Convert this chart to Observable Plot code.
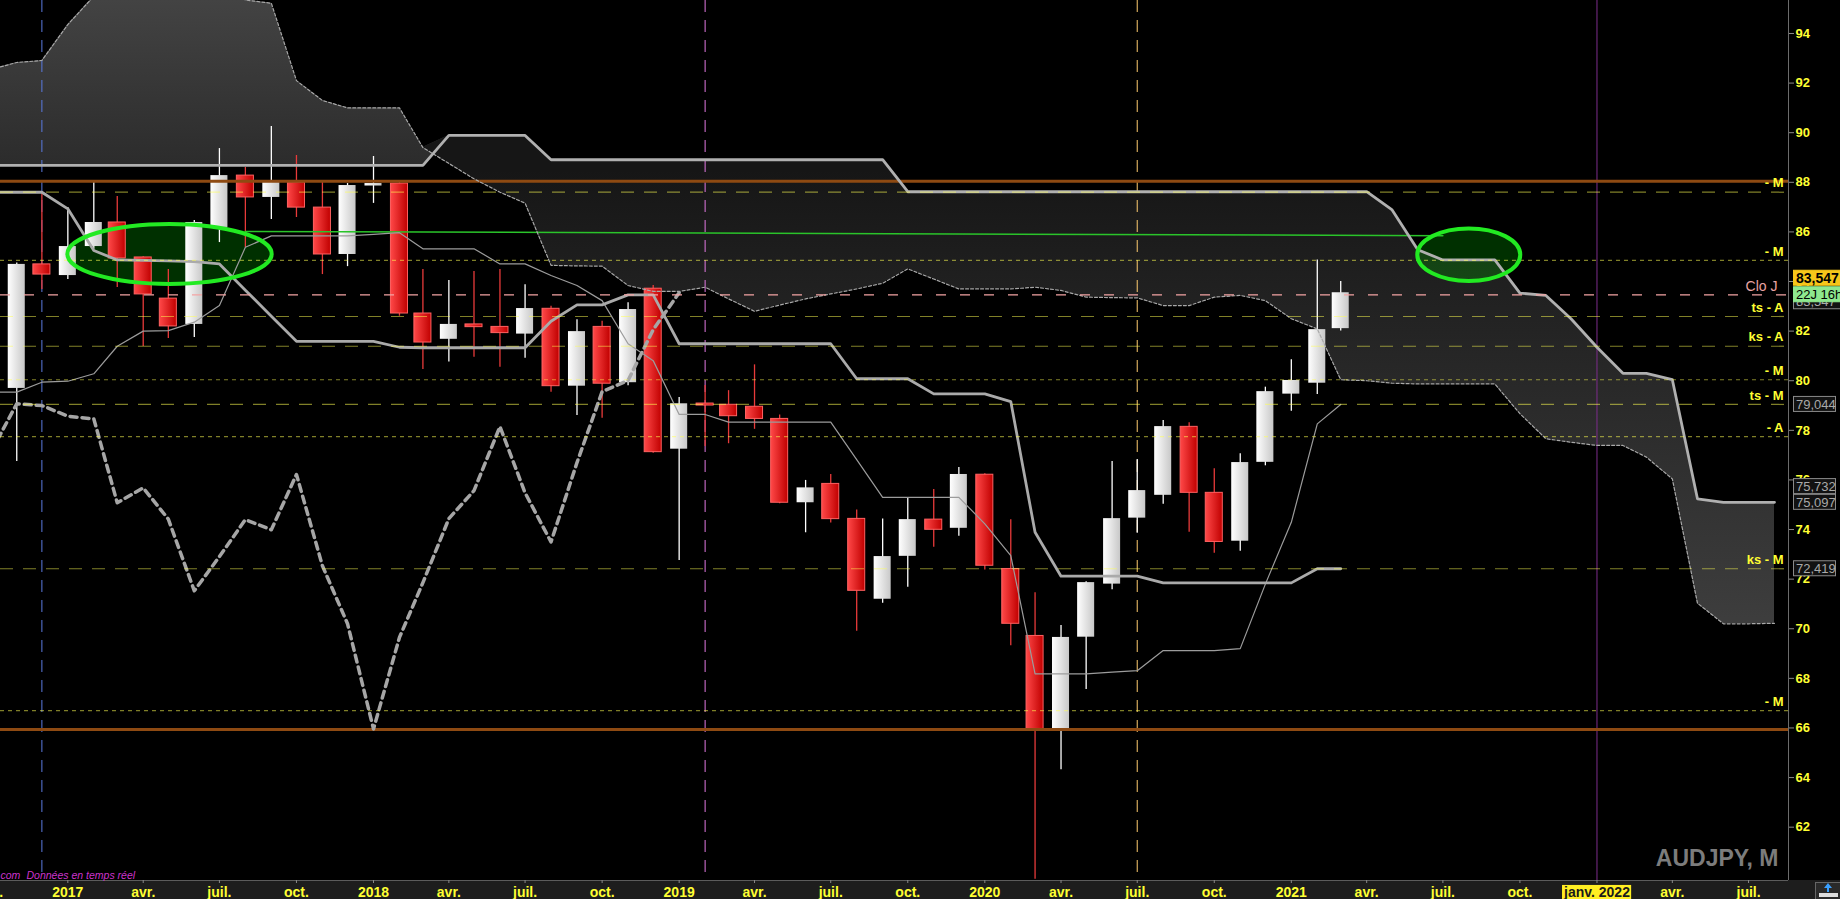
<!DOCTYPE html>
<html><head><meta charset="utf-8">
<script src="https://cdn.jsdelivr.net/npm/d3@7"></script>
<script src="https://cdn.jsdelivr.net/npm/@observablehq/plot@0.6"></script>
<style>
html,body{margin:0;padding:0;background:#000;overflow:hidden;width:1840px;height:899px}
</style></head><body><div id="chart"></div>
<script>
// ---------- DATA (AUDJPY monthly) ----------
const firstCandle = "2016-11-01";
const opens  = [79.69,84.69,84.24,85.41,86.38,84.97,83.31,82.27,86.18,88.27,87.39,87.99,86.98,85.09,87.85,87.95,82.71,81.67,82.27,82.17,81.88,82.90,79.78,82.17,79.92,83.71,77.24,79.08,79.03,78.95,78.46,75.08,75.84,74.43,71.19,72.92,74.40,74.05,76.21,72.41,69.71,65.96,69.66,71.80,74.46,75.38,78.14,75.48,73.53,76.71,79.46,79.90,82.10];
const highs  = [84.75,87.63,86.98,87.99,87.43,85.00,84.48,86.46,89.36,88.60,90.25,89.08,88.00,87.95,89.04,88.00,84.48,84.04,84.40,84.48,83.87,83.00,82.46,82.40,83.14,83.84,79.32,79.81,79.60,80.64,78.62,75.98,76.22,74.79,74.43,75.26,75.61,76.50,76.25,74.39,71.45,70.13,71.90,76.74,76.82,78.40,78.31,76.45,77.06,79.74,80.85,84.87,84.00];
const lows   = [76.74,83.68,84.08,85.30,83.76,81.38,81.70,81.74,85.57,85.37,86.50,86.58,84.28,84.60,87.15,82.60,80.45,80.76,80.95,80.54,80.91,79.54,78.60,78.49,79.80,77.08,72.75,77.35,77.46,78.04,75.04,73.87,74.26,69.90,71.03,71.67,73.29,73.73,72.37,69.31,59.90,64.32,67.55,71.57,73.85,75.02,73.89,73.04,73.12,76.57,78.77,79.44,82.00];
const closes = [84.69,84.28,85.41,86.38,84.93,83.48,82.19,86.38,88.27,87.39,87.99,86.98,85.09,87.87,87.95,82.71,81.54,82.27,82.16,81.92,82.91,79.78,81.98,79.88,82.87,77.12,79.07,79.00,78.57,78.46,75.08,75.68,74.42,71.53,72.91,74.40,73.99,76.22,72.54,70.20,65.96,69.65,71.86,74.44,75.57,78.15,75.48,73.50,76.70,79.56,80.01,82.06,83.547];

// Ichimoku lines (monthly from Oct 2016)
const lineStart = "2016-10-01";
const kijun  = [87.6,87.6,87.6, 86.93,85.25,84.87,84.85,84.83,84.8,84.71,83.65,82.6,81.59,81.59,81.59, 81.59,81.35,81.33,81.33,81.33,81.33,81.33,82.4,83.06,83.06,83.46,83.46, 81.49,81.49,81.49,81.49,81.49,81.49,81.49,80.08,80.08,80.08,79.47,79.47, 79.47,79.16,73.89,72.12,72.12,72.12,72.12,71.85,71.85,71.85,71.85,71.85, 71.85,72.419,72.419];
const tenkan = [79.54,79.54,79.94, 79.98,80.28,81.39,82.0,82.02,82.36,83.03,85.38,85.84,85.84,85.84,85.84, 85.9,85.97,85.32,85.32,85.32,84.71,84.71,84.24,83.84,83.23,81.49,80.81, 78.64,78.64,78.33,78.33,78.33,78.33,78.33,76.82,75.3,75.3,75.3,75.3, 74.23,72.95,68.18,68.18,68.18,68.25,68.31,69.12,69.12,69.12,69.2,71.8, 74.29,78.26,79.044];
const chikouShift = 26; // months (lagging span = close drawn 26 bars back)

// Cloud (Senkou spans, monthly from Oct 2016 to Aug 2022)
const cloudStart = "2016-10-01";
const senkouA = [92.55,92.83,92.91, 94.36,95.5,96.3,96.6,96.6,96.5,96.2,95.35,95.22,92.1,91.3,91.0, 91.0,91.0,89.4,88.76,88.14,87.6,87.16,84.65,84.63,84.62,83.84,83.6, 83.6,83.77,83.3,82.8,83.05,83.3,83.5,83.7,83.93,84.51,84.1,83.7, 83.7,83.7,83.77,83.64,83.37,83.35,83.34,83.03,83.03,83.37,83.44,83.23, 82.5,82.09,80.04,80.0,79.9,79.87,79.87,79.87,79.87,78.67,77.66,77.52, 77.39,77.39,76.92,76.04,71.03,70.2,70.2,70.22];
const senkouB = [88.68,88.68,88.68, 88.68,88.68,88.68,88.68,88.68,88.68,88.68,88.68,88.68,88.68,88.68,88.68, 88.68,88.68,88.68,89.89,89.89,89.89,89.89,88.91,88.91,88.91,88.91,88.91, 88.91,88.91,88.91,88.91,88.91,88.91,88.91,88.91,88.91,87.62,87.62,87.62, 87.62,87.62,87.62,87.62,87.62,87.62,87.62,87.62,87.62,87.62,87.62,87.62, 87.62,87.62,87.62,87.62,86.9,85.28,84.87,84.87,84.87,83.53,83.44,82.5, 81.35,80.3,80.3,80.04,75.24,75.097,75.097,75.097];

// Horizontal levels on the right
const levelValues = [87.6, 84.85, 82.59, 81.39, 80.04, 79.044, 77.75, 72.419, 66.7];
const levelLabels = ["- M", "- M", "ts - A", "ks - A", "- M", "ts - M", "- A", "ks - M", "- M"];
const levelDashes = ["13,10", "4,4", "13,10", "13,10", "4,4", "13,10", "4,4", "13,10", "4,4"];
const closeJ = 83.46;
const supportResistance = [88.04, 65.94];
const trendDates = ["2017-08-01", "2021-07-01"];
const trendValues = [86.02, 85.85];

// Annotations
const ellipseLeft   = ["2017-01-01", "2021-06-01"];
const ellipseRight  = ["2017-09-02", "2021-10-02"];
const ellipseTop    = [86.30, 86.12];
const ellipseBottom = [83.88, 84.00];
const markerDates  = ["2016-12-01", "2019-02-01", "2020-07-01"];
const markerColors = ["#5b7be0", "#e37ae3", "#ffcc70"];
const periodDate = "2022-01-01";

// Right-axis value boxes
const boxValues = [79.044, 75.732, 75.097, 72.419];
const lastPrice = 83.547;
const lastTime = "22J 16h";

// Axes
const yTicks = [62, 64, 66, 68, 70, 72, 74, 76, 78, 80, 82, 84, 86, 88, 90, 92, 94];
const xTickDates  = ["2016-10-01","2017-01-01","2017-04-01","2017-07-01","2017-10-01","2018-01-01","2018-04-01","2018-07-01","2018-10-01","2019-01-01","2019-04-01","2019-07-01","2019-10-01","2020-01-01","2020-04-01","2020-07-01","2020-10-01","2021-01-01","2021-04-01","2021-07-01","2021-10-01","2022-01-01","2022-04-01","2022-07-01"];
const xTickLabels = ["oct.","2017","avr.","juil.","oct.","2018","avr.","juil.","oct.","2019","avr.","juil.","oct.","2020","avr.","juil.","oct.","2021","avr.","juil.","oct.","janv. 2022","avr.","juil."];
const title = "AUDJPY, M";

// ---------- BUILD ----------
const parse = d3.utcParse("%Y-%m-%d");
const c0 = parse(firstCandle);
const candles = opens.map((o, i) => ({date: d3.utcMonth.offset(c0, i), open: o, high: highs[i], low: lows[i], close: closes[i]}));
const up = candles.filter(d => d.close >= d.open);
const down = candles.filter(d => d.close < d.open);
const l0 = parse(lineStart);
const lines = kijun.map((k, i) => ({date: d3.utcMonth.offset(l0, i), kijun: k, tenkan: tenkan[i]}));
const chikou = candles.map(d => ({date: d3.utcMonth.offset(d.date, -chikouShift), value: d.close}));
const k0 = parse(cloudStart);
const cloud = senkouA.map((a, i) => ({date: d3.utcMonth.offset(k0, i), a, b: senkouB[i], top: Math.max(a, senkouB[i])}));
const trend = trendDates.map((d, i) => ({date: parse(d), value: trendValues[i]}));
const levels = levelValues.map((v, i) => ({v, label: levelLabels[i], dash: levelDashes[i]}));
const tickLabelMap = new Map(xTickDates.map((d, i) => [+parse(d), xTickLabels[i]]));

const X0 = new Date(Date.UTC(2016, 9, 12, 14));
const X1 = new Date(Date.UTC(2022, 7, 17, 17));
const Y0 = 59.85, Y1 = 95.33;
const YELLOW = "#ffff33";
const FONT = "'Liberation Sans', Arial, sans-serif";
const halfBody = 244; // hours either side of the month start

function defsMark() {
  const defs = d3.create("svg:defs");
  const lg = (id, stops, attrs) => {
    const g = defs.append("linearGradient").attr("id", id);
    for (const [k, v] of Object.entries(attrs)) g.attr(k, v);
    for (const [o, c] of stops) g.append("stop").attr("offset", o).attr("stop-color", c);
  };
  lg("gRed", [[0, "#ff4848"], [1, "#c00000"]], {x1: 0, y1: 0, x2: 1, y2: 0});
  lg("gWhite", [[0, "#ffffff"], [1, "#c8c8c8"]], {x1: 0, y1: 0, x2: 1, y2: 0});
  lg("gCloudLight", [[0, "#434343"], [1, "#2b2b2b"]], {gradientUnits: "userSpaceOnUse", x1: 0, y1: 0, x2: 0, y2: 170});
  lg("gCloudDark", [[0, "#161616"], [1, "#3e3e3e"]], {gradientUnits: "userSpaceOnUse", x1: 0, y1: 170, x2: 0, y2: 630});
  return defs.node();
}

function ellipseMark(kind) {
  return (index, scales) => {
    const g = d3.create("svg:g");
    ellipseLeft.forEach((l, i) => {
      const x1 = scales.x(parse(l)), x2 = scales.x(parse(ellipseRight[i]));
      const y1 = scales.y(ellipseTop[i]), y2 = scales.y(ellipseBottom[i]);
      g.append("ellipse")
        .attr("cx", (x1 + x2) / 2).attr("cy", (y1 + y2) / 2)
        .attr("rx", (x2 - x1) / 2).attr("ry", (y2 - y1) / 2)
        .attr("fill", kind === "fill" ? "#00a000" : "none")
        .attr("fill-opacity", 0.3)
        .attr("stroke", kind === "fill" ? "none" : "#22ea22")
        .attr("stroke-width", 4);
    });
    return g.node();
  };
}

const plot = Plot.plot({
  width: 1840, height: 899,
  marginLeft: 0, marginRight: 52, marginTop: 0, marginBottom: 19,
  x: {type: "utc", domain: [X0, X1], axis: null},
  y: {domain: [Y0, Y1], axis: null},
  style: {background: "#000", fontFamily: FONT, overflow: "hidden"},
  marks: [
    defsMark,
    // cloud
    Plot.areaY(cloud, {x: "date", y1: "b", y2: "top", fill: "url(#gCloudLight)", clip: true}),
    Plot.areaY(cloud, {x: "date", y1: "a", y2: "top", fill: "url(#gCloudDark)", clip: true}),
    ellipseMark("fill"),
    // vertical markers
    Plot.ruleX(markerDates.map(parse), {stroke: (d, i) => markerColors[i], strokeDasharray: "12,8", strokeWidth: 1}),
    Plot.ruleX([parse(periodDate)], {stroke: "#7d2d8d", strokeWidth: 1}),
    // candles
    Plot.ruleX(up, {x: "date", y1: "low", y2: "high", stroke: "#ffffff", strokeWidth: 1.3, clip: true}),
    Plot.ruleX(down, {x: "date", y1: "low", y2: "high", stroke: "#e83a3a", strokeWidth: 1.3, clip: true}),
    Plot.rect(up, {x1: d => d3.utcHour.offset(d.date, -halfBody), x2: d => d3.utcHour.offset(d.date, halfBody), y1: "open", y2: "close", fill: "url(#gWhite)", clip: true}),
    Plot.rect(down, {x1: d => d3.utcHour.offset(d.date, -halfBody), x2: d => d3.utcHour.offset(d.date, halfBody), y1: "open", y2: "close", fill: "url(#gRed)", stroke: "#ff6262", strokeWidth: 1, clip: true}),
    // support / resistance
    Plot.ruleY(supportResistance, {stroke: "#8e4a12", strokeWidth: 3}),
    Plot.line(trend, {x: "date", y: "value", stroke: "#2ac42a", strokeWidth: 1.5}),
    // ichimoku lines
    Plot.line(cloud, {x: "date", y: "a", stroke: "#a8a8a8", strokeWidth: 1.2, strokeDasharray: "3,2", clip: true}),
    Plot.line(cloud, {x: "date", y: "b", stroke: "#b0b0b0", strokeWidth: 2.8, clip: true}),
    Plot.line(lines, {x: "date", y: "tenkan", stroke: "#9c9c9c", strokeWidth: 1.2, clip: true}),
    Plot.line(lines, {x: "date", y: "kijun", stroke: "#aaaaaa", strokeWidth: 2.8, clip: true}),
    Plot.line(chikou, {x: "date", y: "value", stroke: "#a6a6a6", strokeWidth: 3.5, strokeDasharray: "7,5", clip: true}),
    // levels
    ...levels.map(l => Plot.ruleY([l.v], {stroke: "#ffff50", strokeOpacity: 0.5, strokeWidth: 1.2, strokeDasharray: l.dash})),
    Plot.ruleY([closeJ], {stroke: "#f4a4a4", strokeWidth: 1.2, strokeDasharray: "10,14"}),
    Plot.text(levels, {y: "v", text: "label", frameAnchor: "right", textAnchor: "end", dx: -5, dy: -9, fill: YELLOW, fontSize: 13, fontWeight: "bold"}),
    Plot.text([closeJ], {y: d => d, text: () => "Clo J", frameAnchor: "right", textAnchor: "end", dx: -11, dy: -8, fill: "#e9a3a3", fontSize: 14}),
    ellipseMark("stroke"),
    // frame lines
    Plot.ruleY([Y0], {stroke: "#5c5c5c", strokeWidth: 1}),
    Plot.ruleX([X1], {stroke: "#6c6c6c", strokeWidth: 1}),
    // axes
    Plot.axisX({ticks: xTickDates.map(parse), tickFormat: d => tickLabelMap.get(+d), tickSize: 3, tickPadding: 4, stroke: "#8a8a8a", fill: YELLOW, fontSize: 14, fontWeight: "bold", label: null}),
    Plot.axisY({anchor: "right", ticks: yTicks, tickFormat: d => String(d), tickSize: 5, tickPadding: 2, stroke: "#8a8a8a", fill: YELLOW, fontSize: 13, fontWeight: "bold", label: null}),
    // texts
    Plot.text([title], {frameAnchor: "bottom-right", textAnchor: "end", lineAnchor: "bottom", dx: -10, dy: -15, fill: "#7c7c7c", fontSize: 23, fontWeight: "bold"}),
    Plot.text(["com"], {frameAnchor: "bottom-left", textAnchor: "start", lineAnchor: "bottom", dx: 0, dy: -2, fill: "#cc33cc", fontSize: 10.5, fontStyle: "italic"}),
    Plot.text(["Données en temps réel"], {frameAnchor: "bottom-left", textAnchor: "start", lineAnchor: "bottom", dx: 26, dy: -2, fill: "#cc33cc", fontSize: 10.5, fontStyle: "italic"})
  ]
});

document.getElementById("chart").appendChild(plot);

// ---------- post-processing with the plot's own scales ----------
const svg = d3.select(plot);
const ys = plot.scale("y");
// bottom band
svg.insert("rect", ":first-child").attr("x", 0).attr("y", 880).attr("width", 1840).attr("height", 19).attr("fill", "#1d1d1d");
svg.insert("rect", ":first-child").attr("x", 0).attr("y", 0).attr("width", 1840).attr("height", 899).attr("fill", "#000");
// highlighted current period label
svg.selectAll("text").filter(function () { return this.textContent === "janv. 2022"; }).each(function () {
  const b = this.getBBox();
  d3.select(this.parentNode).insert("rect", () => this)
    .attr("transform", this.getAttribute("transform"))
    .attr("x", b.x - 1).attr("y", b.y + 0.5).attr("width", b.width + 2).attr("height", b.height + 2)
    .attr("fill", "#ffee22");
  d3.select(this).attr("fill", "#1a1a1a");
});
const fr = d3.formatLocale({decimal: ",", thousands: " ", grouping: [3], currency: ["", ""]}).format(".3f");
const boxG = svg.append("g").attr("text-anchor", "start").attr("font-family", FONT);
function valueBox(v, dy, label, fill, stroke, color, bold, w) {
  const y = ys.apply(v) + dy;
  boxG.append("rect").attr("x", 1793.5).attr("y", y - 7.5).attr("width", w).attr("height", 15)
    .attr("fill", fill).attr("stroke", stroke).attr("stroke-width", 1);
  boxG.append("text").attr("x", 1796).attr("y", y + 5).attr("text-anchor", "start").text(label)
    .attr("fill", color).attr("font-size", bold ? 14 : 13).attr("font-weight", bold ? "bold" : "normal");
}
for (const v of boxValues) valueBox(v, 0, fr(v), "#121212", "#8a8a8a", "#a9a9a9", false, 42);
valueBox(lastPrice, 9, fr(lastPrice), "#121212", "#8a8a8a", "#a9a9a9", false, 48);
valueBox(lastPrice, -14.5, fr(lastPrice), "#f7c61a", "#f7c61a", "#000", true, 50);
valueBox(lastPrice, 2, lastTime, "#8ee88e", "#8ee88e", "#000", false, 50);
// small button bottom-right
boxG.append("rect").attr("x", 1815.5).attr("y", 882.5).attr("width", 26).attr("height", 17).attr("fill", "#2a2a2a").attr("stroke", "#666");
boxG.append("path").attr("d", "M1828,883 l-4,5 h3 v4 h2 v-4 h3 z").attr("fill", "#3aa0ff");
boxG.append("rect").attr("x", 1819).attr("y", 893).attr("width", 19).attr("height", 4).attr("fill", "#ddd");
</script></body></html>
